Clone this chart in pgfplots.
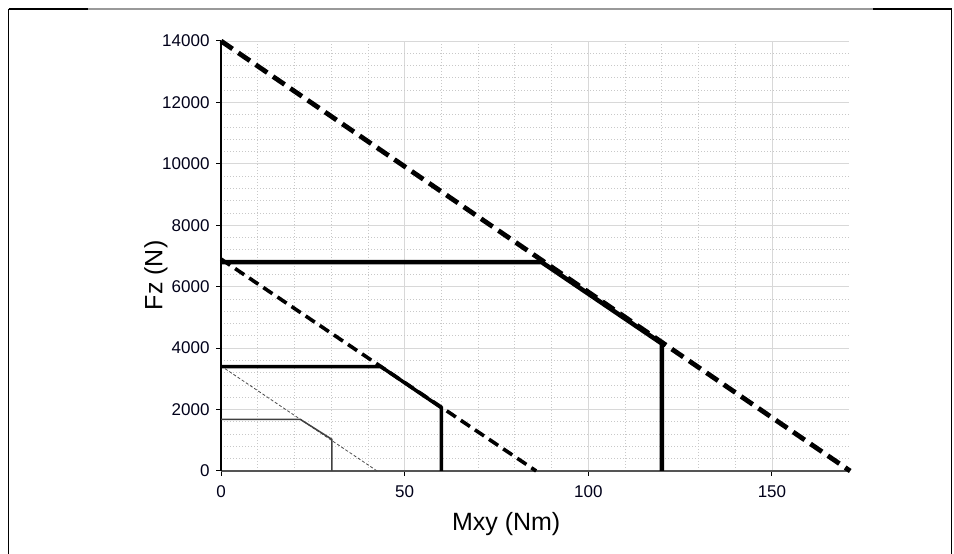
\documentclass[border=0pt]{standalone}
\usepackage{fontspec}
\setmainfont{Liberation Sans}
\usepackage{pgfplots}
\pgfplotsset{compat=1.18}
\definecolor{gmaj}{HTML}{D8D8D8}
\definecolor{gmin}{HTML}{C8C8C8}
\definecolor{axgray}{HTML}{555555}
\begin{document}
\begin{tikzpicture}[x=1pt,y=1pt]
\path[use as bounding box] (0,0) rectangle (954,554);
% outer frame
\draw[line width=1.2pt, black!40] (8.5,545) -- (951.5,545);
\draw[line width=1.5pt, black] (8.5,545) -- (88,545);
\draw[line width=1.5pt, black] (873,545) -- (951.5,545);
\draw[line width=1.5pt, black] (8.5,545) -- (8.5,0);
\draw[line width=1.5pt, black] (951.5,545) -- (951.5,0);
\begin{axis}[
  at={(221pt,83pt)}, anchor=south west,
  scale only axis, width=628.1pt, height=430pt,
  xmin=0, xmax=171, ymin=0, ymax=14000,
  axis x line*=bottom, axis y line*=left,
  x axis line style={axgray, line width=1.2pt, -},
  y axis line style={black, line width=1.2pt, -},
  xtick={0,50,100,150}, ytick={0,2000,...,14000},
  minor x tick num=4, minor y tick num=4,
  tick align=outside, major tick length=5pt, minor tick length=0pt,
  every tick/.style={black, line width=1pt},
  grid=both,
  major grid style={gmaj, line width=0.9pt},
  minor grid style={gmin, line width=0.8pt, dash pattern=on 1.2pt off 1.8pt},
  scaled y ticks=false,
  /pgf/number format/fixed,
  /pgf/number format/1000 sep={},
  /pgf/number format/assume math mode=true,
  tick label style={font=\fontsize{17}{20}\selectfont, text=black!90!blue},
  xticklabel style={yshift=-6pt},
  yticklabel style={xshift=-3pt},
  xlabel={Mxy (Nm)}, ylabel={Fz (N)},
  label style={font=\fontsize{25}{28}\selectfont},
  xlabel style={at={(axis description cs:0.454,0)}, anchor=north, yshift=-38pt},
  ylabel style={at={(axis description cs:0,0.455)}, anchor=south, yshift=50pt},
  clip=false,
]
\addplot[black, line width=4.8pt, dash pattern=on 14pt off 7pt, line cap=butt] coordinates {(0,14000) (171.3,0)};
\addplot[black, line width=3.6pt, dash pattern=on 11pt off 6pt] coordinates {(0,6900) (85.8,0)};
\addplot[black!70, line width=0.8pt, dash pattern=on 3pt off 2pt] coordinates {(0,3420) (42.5,0)};
\addplot[black, line width=4.5pt, line join=miter] coordinates {(0,6800) (87.3,6800) (120,4150) (120,0)};
\addplot[black, line width=3.5pt, line join=miter] coordinates {(0,3400) (43.5,3400) (60,2060) (60,0)};
\addplot[black!75, line width=1.5pt] coordinates {(0,1680) (21.6,1680) (30.2,1030) (30.2,0)};
\end{axis}
\end{tikzpicture}
\end{document}
